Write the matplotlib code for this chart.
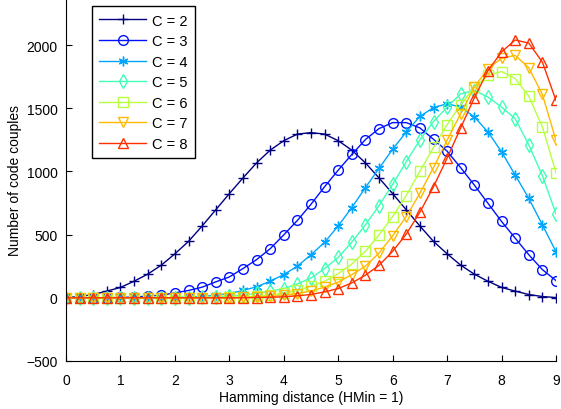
import numpy as np
import matplotlib
matplotlib.use("Agg")
import matplotlib.pyplot as plt

plt.rcParams['font.family'] = ['Liberation Sans', 'DejaVu Sans']

# Hamming distance samples (step 0.25)
hamming = np.arange(0, 9.01, 0.25)

c2 = [2, 10, 26, 53, 82, 131, 187, 258, 348, 446, 568, 696, 824, 948, 1067, 1168, 1243, 1295, 1307,
      1295, 1243, 1168, 1067, 948, 824, 696, 568, 446, 348, 258, 187, 131, 82, 53, 26, 10, 2]
c3 = [0, 0, 0, 1, 3, 6, 13, 21, 39, 58, 84, 126, 165, 231, 302, 388, 498, 612, 740,
      879, 1010, 1134, 1252, 1339, 1386, 1386, 1344, 1254, 1160, 1029, 892, 748, 604, 472, 341, 223, 136]
c4 = [0, 0, 0, 0, 0, 0, 0, 0, 2, 5, 11, 20, 34, 58, 87, 131, 184, 250, 341,
      439, 569, 714, 872, 1024, 1176, 1312, 1435, 1505, 1535, 1509, 1431, 1312, 1155, 971, 787, 577, 365]
c5 = [0, 0, 0, 0, 0, 0, 0, 0, 0, 0, 3, 7, 13, 22, 35, 53, 73, 110, 157,
      231, 320, 441, 577, 730, 898, 1076, 1250, 1394, 1509, 1614, 1640, 1588, 1509, 1417, 1210, 966, 664]
c6 = [0, 0, 0, 0, 0, 0, 0, 0, 0, 0, 0, 0, 3, 6, 12, 21, 36, 58, 92,
      131, 191, 268, 368, 498, 643, 809, 1000, 1190, 1370, 1527, 1665, 1760, 1790, 1735, 1595, 1352, 990]
c7 = [0, 0, 0, 0, 0, 0, 0, 0, 0, 0, 0, 0, 0, 3, 6, 11, 20, 34, 55,
      84, 124, 184, 250, 354, 491, 643, 827, 1030, 1247, 1457, 1667, 1813, 1895, 1918, 1820, 1609, 1245]
c8 = [0, 0, 0, 0, 0, 0, 0, 0, 0, 0, 0, 0, 0, 0, 2, 4, 8, 16, 26,
      47, 73, 118, 179, 257, 368, 504, 677, 879, 1105, 1345, 1583, 1797, 1945, 2040, 2015, 1865, 1561]

series = [c2, c3, c4, c5, c6, c7, c8]
labels = ['C = 2', 'C = 3', 'C = 4', 'C = 5', 'C = 6', 'C = 7', 'C = 8']
# MATLAB-like markers: plus, circle, asterisk, diamond, square, triangles
markers = ['+', 'o', (6, 2, 0), 'd', 's', 'v', '^']
colors = plt.cm.jet(np.arange(7) / 7.0)

fig = plt.figure(figsize=(5.61, 4.10), dpi=100)
ax = fig.add_axes([66 / 561, 48 / 410, 490 / 561, 362 / 410])

for vals, lab, mk, col in zip(series, labels, markers, colors):
    ax.plot(hamming, vals, marker=mk, color=col, label=lab, linewidth=1.0,
            markersize=7, markerfacecolor='none', markeredgewidth=1.0)

ax.set_xlim(0, 9)
ax.set_ylim(-500, 2364)
ax.set_xticks(range(0, 10))
ax.set_yticks([-500, 0, 500, 1000, 1500, 2000])
ax.set_yticklabels(['\u2212500', '0', '500', '1000', '1500', '2000'])
ax.tick_params(direction='in', length=4, labelsize=10, top=False, right=False)
ax.tick_params(axis='x', pad=8.5)
ax.tick_params(axis='y', pad=6)
for s in ['top', 'right']:
    ax.spines[s].set_visible(False)

ax.set_xlabel('Hamming distance (HMin = 1)', fontsize=10, labelpad=2)
ax.set_ylabel('Number of code couples', fontsize=10, labelpad=3)

leg = ax.legend(loc='upper left', bbox_to_anchor=(0.053, 0.98), borderaxespad=0,
                fontsize=10.5, handlelength=3.2, labelspacing=0.45, fancybox=False,
                framealpha=1, edgecolor='black', borderpad=0.5, handletextpad=0.4)
leg.get_frame().set_linewidth(1.0)

plt.savefig('out.png', dpi=100)
